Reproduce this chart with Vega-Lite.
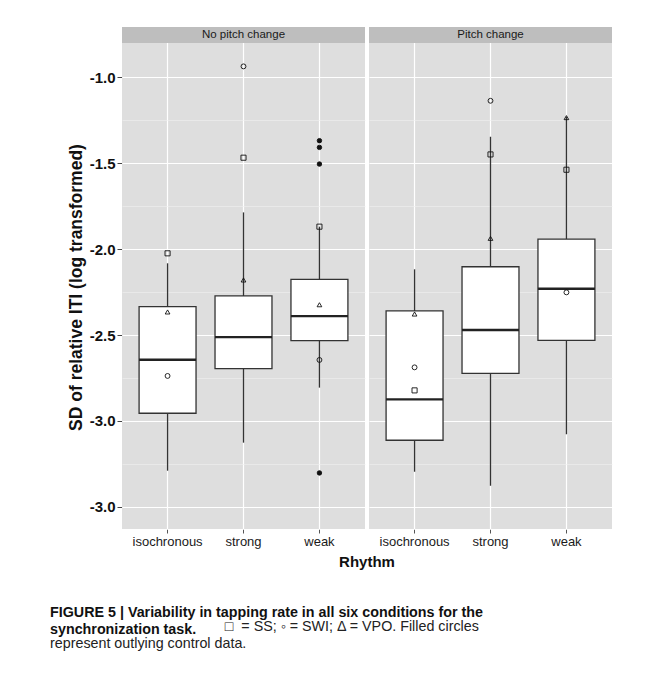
{
  "$schema": "https://vega.github.io/schema/vega-lite/v6.json",
  "background": "white",
  "padding": {"left": 50, "top": 27, "right": 10, "bottom": 10},
  "data": {"values": [
    {"kind": "strip", "cond": "No pitch change", "label": "No pitch change"},
    {"kind": "strip", "cond": "Pitch change", "label": "Pitch change"},
    {"kind": "box", "cond": "No pitch change", "rhythm": "isochronous", "lower": -3.289, "q1": -2.955, "median": -2.644, "q3": -2.335, "upper": -2.083},
    {"kind": "box", "cond": "No pitch change", "rhythm": "strong", "lower": -3.126, "q1": -2.696, "median": -2.512, "q3": -2.273, "upper": -1.787},
    {"kind": "box", "cond": "No pitch change", "rhythm": "weak", "lower": -2.806, "q1": -2.533, "median": -2.39, "q3": -2.176, "upper": -1.87},
    {"kind": "box", "cond": "Pitch change", "rhythm": "isochronous", "lower": -3.295, "q1": -3.112, "median": -2.874, "q3": -2.36, "upper": -2.118},
    {"kind": "box", "cond": "Pitch change", "rhythm": "strong", "lower": -3.376, "q1": -2.723, "median": -2.471, "q3": -2.103, "upper": -1.347},
    {"kind": "box", "cond": "Pitch change", "rhythm": "weak", "lower": -3.077, "q1": -2.531, "median": -2.231, "q3": -1.942, "upper": -1.231},
    {"kind": "pt", "cond": "No pitch change", "rhythm": "isochronous", "group": "SS", "value": -2.025},
    {"kind": "pt", "cond": "No pitch change", "rhythm": "isochronous", "group": "VPO", "value": -2.366},
    {"kind": "pt", "cond": "No pitch change", "rhythm": "isochronous", "group": "SWI", "value": -2.738},
    {"kind": "pt", "cond": "No pitch change", "rhythm": "strong", "group": "SWI", "value": -0.938},
    {"kind": "pt", "cond": "No pitch change", "rhythm": "strong", "group": "SS", "value": -1.469},
    {"kind": "pt", "cond": "No pitch change", "rhythm": "strong", "group": "VPO", "value": -2.18},
    {"kind": "pt", "cond": "No pitch change", "rhythm": "weak", "group": "SS", "value": -1.87},
    {"kind": "pt", "cond": "No pitch change", "rhythm": "weak", "group": "VPO", "value": -2.324},
    {"kind": "pt", "cond": "No pitch change", "rhythm": "weak", "group": "SWI", "value": -2.645},
    {"kind": "pt", "cond": "No pitch change", "rhythm": "weak", "group": "control", "value": -1.37},
    {"kind": "pt", "cond": "No pitch change", "rhythm": "weak", "group": "control", "value": -1.409},
    {"kind": "pt", "cond": "No pitch change", "rhythm": "weak", "group": "control", "value": -1.506},
    {"kind": "pt", "cond": "No pitch change", "rhythm": "weak", "group": "control", "value": -3.302},
    {"kind": "pt", "cond": "Pitch change", "rhythm": "isochronous", "group": "VPO", "value": -2.378},
    {"kind": "pt", "cond": "Pitch change", "rhythm": "isochronous", "group": "SWI", "value": -2.688},
    {"kind": "pt", "cond": "Pitch change", "rhythm": "isochronous", "group": "SS", "value": -2.822},
    {"kind": "pt", "cond": "Pitch change", "rhythm": "strong", "group": "SWI", "value": -1.138},
    {"kind": "pt", "cond": "Pitch change", "rhythm": "strong", "group": "SS", "value": -1.45},
    {"kind": "pt", "cond": "Pitch change", "rhythm": "strong", "group": "VPO", "value": -1.938},
    {"kind": "pt", "cond": "Pitch change", "rhythm": "weak", "group": "VPO", "value": -1.236},
    {"kind": "pt", "cond": "Pitch change", "rhythm": "weak", "group": "SS", "value": -1.539},
    {"kind": "pt", "cond": "Pitch change", "rhythm": "weak", "group": "SWI", "value": -2.252}
  ]},
  "spacing": 4,
  "facet": {
    "column": {
      "field": "cond", "type": "nominal", "sort": ["No pitch change", "Pitch change"],
      "header": {"labels": false, "title": "Rhythm", "titleOrient": "bottom", "titleFont": "Liberation Sans", "titleFontSize": 15, "titleFontWeight": "bold", "titleColor": "#111", "titlePadding": -3}
    }
  },
  "spec": {
    "width": 243,
    "height": 502,
    "layer": [
      {
        "transform": [{"filter": "datum.kind == 'box'"}],
        "mark": {"type": "rule", "color": "#333333", "strokeWidth": 1.3},
        "encoding": {
          "x": {"field": "rhythm", "type": "nominal", "sort": ["isochronous", "strong", "weak"],
            "scale": {"type": "band", "paddingInner": 0, "paddingOuter": 0.1},
            "axis": {"title": null, "labelAngle": 0, "labelFont": "Liberation Sans", "labelFontSize": 13, "labelColor": "#1a1a1a", "labelPadding": 2, "tickColor": "#555555", "tickSize": 4, "tickWidth": 1, "domain": false, "grid": true, "gridColor": "#ffffff", "gridWidth": 1.2}},
          "y": {"field": "lower", "type": "quantitative",
            "scale": {"domain": [-3.628, -0.709], "nice": false, "zero": false},
            "axis": {
              "title": "SD of relative ITI (log transformed)",
              "titleFont": "Liberation Sans", "titleFontSize": 17.5, "titleFontWeight": "bold", "titleColor": "#111",
              "titlePadding": 4, "titleY": 260,
              "values": [-3.5, -3.25, -3.0, -2.75, -2.5, -2.25, -2.0, -1.75, -1.5, -1.25, -1.0],
              "labelExpr": "datum.value == -1 ? '-1.0' : datum.value == -1.5 ? '-1.5' : datum.value == -2 ? '-2.0' : datum.value == -2.5 ? '-2.5' : (datum.value == -3 || datum.value == -3.5) ? '-3.0' : ''",
              "labelFont": "Liberation Sans", "labelFontSize": 15, "labelFontWeight": "bold", "labelColor": "#111", "labelPadding": 2,
              "domain": false,
              "tickSize": 5, "tickColor": "#444444", "tickWidth": 1,
              "tickOpacity": {"condition": {"test": "datum.value * 2 != round(datum.value * 2)", "value": 0}, "value": 1},
              "grid": true,
              "gridColor": {"condition": {"test": "datum.value * 2 != round(datum.value * 2)", "value": "#F0F0F0"}, "value": "#ffffff"},
              "gridWidth": {"condition": {"test": "datum.value * 2 != round(datum.value * 2)", "value": 0.6}, "value": 1.2}
            }},
          "y2": {"field": "upper"}
        }
      },
      {
        "transform": [{"filter": "datum.kind == 'box'"}],
        "mark": {"type": "bar", "fill": "#ffffff", "stroke": "#333333", "strokeWidth": 1.3, "width": {"band": 0.75}},
        "encoding": {
          "x": {"field": "rhythm", "type": "nominal", "sort": ["isochronous", "strong", "weak"]},
          "y": {"field": "q1", "type": "quantitative", "scale": {"domain": [-3.628, -0.709], "nice": false, "zero": false}},
          "y2": {"field": "q3"}
        }
      },
      {
        "transform": [{"filter": "datum.kind == 'box'"}],
        "mark": {"type": "tick", "color": "#222222", "thickness": 2.3, "size": 57, "opacity": 1},
        "encoding": {
          "x": {"field": "rhythm", "type": "nominal", "sort": ["isochronous", "strong", "weak"]},
          "y": {"field": "median", "type": "quantitative", "scale": {"domain": [-3.628, -0.709], "nice": false, "zero": false}}
        }
      },
      {
        "transform": [{"filter": "datum.kind == 'pt'"}],
        "mark": {"type": "point", "stroke": "#111111", "strokeWidth": 0.9, "opacity": 1},
        "encoding": {
          "x": {"field": "rhythm", "type": "nominal", "sort": ["isochronous", "strong", "weak"]},
          "y": {"field": "value", "type": "quantitative", "scale": {"domain": [-3.628, -0.709], "nice": false, "zero": false}},
          "shape": {"field": "group", "type": "nominal", "scale": {"domain": ["SS", "SWI", "VPO", "control"], "range": ["square", "circle", "triangle-up", "circle"]}, "legend": null},
          "fill": {"field": "group", "type": "nominal", "scale": {"domain": ["SS", "SWI", "VPO", "control"], "range": ["transparent", "transparent", "transparent", "#111111"]}, "legend": null},
          "size": {"field": "group", "type": "nominal", "scale": {"domain": ["SS", "SWI", "VPO", "control"], "range": [26, 20, 38, 20]}, "legend": null}
        }
      },
      {
        "transform": [{"filter": "datum.kind == 'strip'"}],
        "mark": {"type": "rect", "fill": "#BEBEBE"},
        "encoding": {
          "y": {"datum": -0.802, "type": "quantitative"},
          "y2": {"datum": -0.709}
        }
      },
      {
        "transform": [{"filter": "datum.kind == 'strip'"}],
        "mark": {"type": "text", "font": "Liberation Sans", "fontSize": 11.5, "color": "#1a1a1a", "baseline": "middle", "align": "center"},
        "encoding": {
          "y": {"datum": -0.7555, "type": "quantitative"},
          "text": {"field": "label"}
        }
      }
    ]
  },
  "title": {
    "text": ["FIGURE 5 | Variability in tapping rate in all six conditions for the", "synchronization task."],
    "subtitle": ["\u200b\u00a0\u00a0\u00a0\u00a0\u00a0\u00a0\u00a0\u00a0\u00a0\u00a0\u00a0\u00a0\u00a0\u00a0\u00a0\u00a0\u00a0\u00a0\u00a0\u00a0\u00a0\u00a0\u00a0\u00a0\u00a0\u00a0\u00a0\u00a0\u00a0\u00a0\u00a0\u00a0\u00a0\u00a0\u00a0\u00a0\u00a0\u00a0\u00a0\u00a0\u00a0\u00a0\u00a0\u00a0\u25a1\u00a0 = SS; \u25e6 = SWI; \u0394 = VPO. Filled circles", "represent outlying control data."],
    "orient": "bottom", "anchor": "start", "frame": "group", "dx": -72, "offset": 36,
    "font": "Liberation Sans", "fontSize": 14.3, "fontWeight": "bold", "lineHeight": 16.5, "color": "#111",
    "subtitleFont": "Liberation Sans", "subtitleFontSize": 14.3, "subtitleFontWeight": "normal", "subtitleLineHeight": 16.5, "subtitlePadding": -16.5, "subtitleColor": "#222"
  },
  "config": {
    "view": {"fill": "#DEDEDE", "stroke": null},
    "font": "Liberation Sans"
  }
}
